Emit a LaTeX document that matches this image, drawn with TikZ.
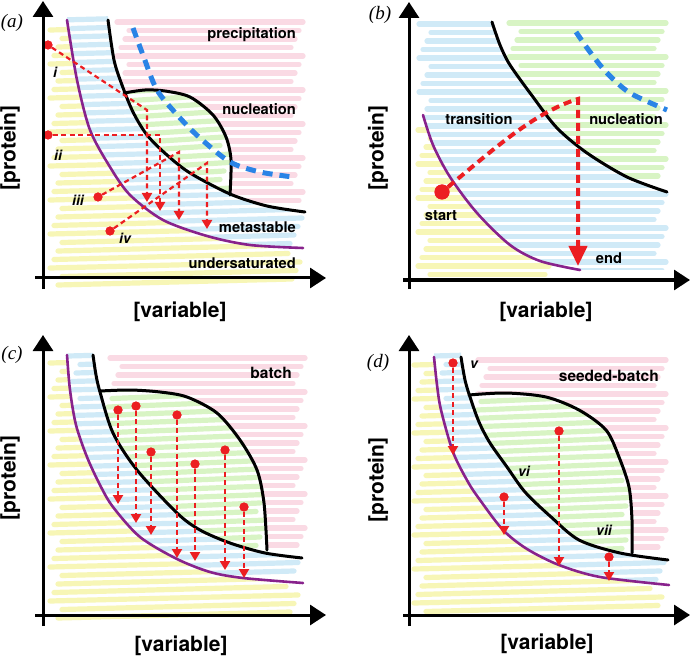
\documentclass[tikz,border=0pt]{standalone}
\usepackage{fontspec}
\setsansfont{TeX Gyre Heros}
\newfontfamily\panelfont{Liberation Serif}
\usetikzlibrary{arrows.meta}
\definecolor{cpink}{RGB}{250,218,228}
\definecolor{cblue}{RGB}{208,234,247}
\definecolor{cyel}{RGB}{247,246,182}
\definecolor{cgreen}{RGB}{216,244,196}
\definecolor{cred}{RGB}{236,30,34}
\definecolor{cpur}{RGB}{136,34,140}
\definecolor{cdash}{RGB}{42,132,230}
% curves
\def\purA{plot[smooth] coordinates {(67,20) (77,80) (90,130) (110,167) (130,195) (163,220) (207,236) (250,245) (303,248)}}
\def\blkA{plot[smooth] coordinates {(108,20) (114,60) (122,85) (133,112) (147,135) (167,155) (190,173) (230,194) (267,206) (305,212)}}
\def\lensA{plot[smooth] coordinates {(124,93) (145,90) (165,91) (190,97) (213,115) (226,137) (231,160) (230,195)}}
\def\dashA{plot[smooth] coordinates {(133,28) (143,55) (157,90) (180,118) (200,138) (230,162) (260,172) (293,177)}}
\def\purB{plot[smooth] coordinates {(423,115) (433,145) (450,177) (477,213) (510,245) (540,261) (580,270)}}
\def\blkB{plot[smooth] coordinates {(492,22) (500,45) (510,65) (533,97) (557,128) (587,153) (627,177) (667,192)}}
\def\dashB{plot[smooth] coordinates {(576,32) (590,52) (607,73) (630,93) (667,110)}}
\def\purC{plot[smooth] coordinates {(67,355) (70,390) (76,425) (87,457) (100,485) (113,507) (140,537) (177,559) (210,572) (243,578) (303,583)}}
\def\blkC{plot[smooth] coordinates {(93,355) (96,375) (100,392) (113,433) (137,470) (177,513) (200,530) (230,543) (265,553) (302,558)}}
\def\lensC{plot[smooth] coordinates {(100,391) (130,390) (160,392) (187,397) (217,413) (240,440) (257,470) (264,503) (267,550)}}
\def\purD{plot[smooth] coordinates {(434,357) (437,385) (441,410) (453,452) (468,482) (480,500) (503,530) (527,549) (559,565) (600,577) (669,585)}}
\def\blkD{plot[smooth] coordinates {(461,357) (465,380) (470,397) (479,422) (490,443) (507,467) (525,492) (550,516) (579,540) (620,553) (668,560)}}
\def\lensD{plot[smooth] coordinates {(469,395) (506,393) (546,397) (579,410) (606,430) (619,457) (629,487) (632,520) (632,553)}}
% crayon bands: colour, x1, x2, y1, y2, slant
\newcommand\bands[6]{%
  \pgfmathtruncatemacro\nb{(#5-#4)/8.5}%
  \foreach \k in {0,...,\nb}{%
    \pgfmathsetmacro\yy{#4+8.5*\k}%
    \pgfmathsetmacro\xa{#2+4*mod(\k*7,4)}%
    \pgfmathsetmacro\xb{#3-4*mod(\k*5,4)}%
    \pgfmathsetmacro\ww{5.2+0.5*mod(\k*3,3)}%
    \draw[#1,line width=\ww pt,line cap=round] (\xa,\yy) -- (\xb,\yy-#6);%
  }}
\begin{document}
\begin{tikzpicture}[x=1pt,y=-1pt,
  reg/.style={font=\sffamily\bfseries\fontsize{14.7}{16}\selectfont, inner sep=0pt},
  axl/.style={font=\sffamily\bfseries\fontsize{21}{24}\selectfont, inner sep=0pt},
  rom/.style={font=\sffamily\bfseries\itshape\fontsize{14}{16}\selectfont, inner sep=0pt},
  pan/.style={font=\panelfont\itshape\fontsize{19}{22}\selectfont, inner sep=0pt},
  axis/.style={line width=3pt, -{Triangle[width=20pt,length=16pt]}},
  pcurve/.style={cpur, line width=2.6pt, line cap=round},
  bcurve/.style={black, line width=3pt, line cap=round},
  dcurve/.style={cdash, line width=5pt, dash pattern=on 10pt off 7pt},
  redarrow/.style={cred, line width=2.2pt, dash pattern=on 5pt off 3.5pt, -{Triangle[width=10pt,length=9pt]}},
  bigarrow/.style={cred, line width=4pt, dash pattern=on 8pt off 5pt, -{Triangle[width=18pt,length=20pt]}},
  rdot/.style={circle, fill=cred, inner sep=0pt, minimum size=9pt},
  bigdot/.style={circle, fill=cred, inner sep=0pt, minimum size=15pt}]
\useasboundingbox (0,0) rectangle (693,660);
\fill[white] (0,0) rectangle (693,660);

%================ panel (a) ================
\begin{scope}\clip \purA -- (330,248) -- (330,300) -- (30,300) -- (30,0) -- (67,0) -- cycle;
  \bands{cyel}{50}{300}{30}{285}{6}\end{scope}
\begin{scope}\clip \blkA -- (330,212) -- (330,300) -- (30,300) -- (30,0) -- (108,0) -- cycle;
  \clip \purA -- (330,248) -- (330,0) -- (67,0) -- cycle;
  \bands{cblue}{60}{302}{20}{255}{6}\end{scope}
\begin{scope}\clip \blkA -- (330,212) -- (330,0) -- (108,0) -- cycle;
  \bands{cpink}{117}{303}{22}{202}{0}\end{scope}
\begin{scope}\clip \blkA -- (330,212) -- (330,0) -- (108,0) -- cycle;
  \clip \lensA -- (230,300) -- (30,300) -- (30,93) -- cycle;
  \fill[white] (0,0) rectangle (346,330);
  \bands{cgreen}{120}{232}{92}{205}{6}\end{scope}
\draw[pcurve] \purA;
\draw[bcurve] \blkA;
\draw[bcurve] \lensA;
\draw[dcurve] \dashA;
\node[rdot] (pi) at (48,45) {};
\coordinate (pi1) at (147,110); \coordinate (pi2) at (147,202);
\node[rdot] (pii) at (48,135) {};
\coordinate (pii1) at (160,135); \coordinate (pii2) at (160,211);
\node[rdot] (piii) at (98,197) {};
\coordinate (piii1) at (179,152); \coordinate (piii2) at (179,220);
\node[rdot] (piv) at (110,231) {};
\coordinate (piv1) at (207,163); \coordinate (piv2) at (207,229);
\draw[redarrow] (pi) -- (pi1) -- (pi2);
\draw[redarrow] (pii) -- (pii1) -- (pii2);
\draw[redarrow] (piii) -- (piii1) -- (piii2);
\draw[redarrow] (piv) -- (piv1) -- (piv2);
\node[rdot] at (pi) {}; \node[rdot] at (pii) {}; \node[rdot] at (piii) {}; \node[rdot] at (piv) {};
\node[rom] (li) at (55,72) {i};
\node[rom] (lii) at (58,155) {ii};
\node[rom] (liii) at (78,200) {iii};
\node[rom] (liv) at (125,238) {iv};
\node[reg, anchor=east] (lprec) at (296,35) {precipitation};
\node[reg, anchor=east] (lnucA) at (296,109) {nucleation};
\node[reg, anchor=east] (lmeta) at (296,227) {metastable};
\node[reg, anchor=east] (lunder) at (296,263) {undersaturated};
\coordinate (ayA0) at (43,289); \coordinate (ayA1) at (43,1);
\coordinate (axA0) at (35,278); \coordinate (axA1) at (326,278);
\draw[axis] (ayA0) -- (ayA1);
\draw[axis] (axA0) -- (axA1);
\node[pan] (pa) at (12,23) {(a)};
\node[axl, rotate=90] (protA) at (10,148) {[protein]};
\node[axl] (varA) at (180,312) {[variable]};

%================ panel (b) ================
\begin{scope}\clip \purB -- (580,300) -- (400,300) -- (400,115) -- cycle;
  \bands{cyel}{418}{549}{130}{275}{0}\end{scope}
\begin{scope}\clip \blkB -- (690,192) -- (690,300) -- (400,300) -- (400,0) -- (492,0) -- cycle;
  \clip \purB -- (690,270) -- (690,0) -- (400,0) -- (400,115) -- cycle;
  \bands{cblue}{419}{666}{24}{272}{0}\end{scope}
\begin{scope}\clip \blkB -- (690,192) -- (690,0) -- (492,0) -- cycle;
  \bands{cgreen}{509}{666}{23}{182}{0}\end{scope}
\draw[pcurve] \purB;
\draw[bcurve] \blkB;
\draw[dcurve] \dashB;
\node[bigdot] (ps) at (442,192) {};
\coordinate (ps1) at (578,99); \coordinate (ps2) at (578,266);
\draw[bigarrow] (ps) .. controls (495,148) and (535,112) .. (ps1) -- (ps2);
\node[bigdot] at (ps) {};
\node[reg] (ltrans) at (479,119) {transition};
\node[reg] (lnucB) at (626,119) {nucleation};
\node[reg] (lstart) at (441,216) {start};
\node[reg] (lend) at (609,258) {end};
\coordinate (ayB0) at (409,289); \coordinate (ayB1) at (409,2);
\coordinate (axB0) at (403,280); \coordinate (axB1) at (690,280);
\draw[axis] (ayB0) -- (ayB1);
\draw[axis] (axB0) -- (axB1);
\node[pan] (pb) at (380,15) {(b)};
\node[axl, rotate=90] (protB) at (378,148) {[protein]};
\node[axl] (varB) at (546,312) {[variable]};

%================ panel (c) ================
\begin{scope}\clip \purC -- (330,583) -- (330,640) -- (30,640) -- (30,330) -- (67,330) -- cycle;
  \bands{cyel}{50}{298}{363}{618}{6}\end{scope}
\begin{scope}\clip \blkC -- (330,558) -- (330,640) -- (30,640) -- (30,330) -- (93,330) -- cycle;
  \clip \purC -- (330,583) -- (330,330) -- (67,330) -- cycle;
  \bands{cblue}{68}{302}{356}{580}{6}\end{scope}
\begin{scope}\clip \blkC -- (330,558) -- (330,330) -- (93,330) -- cycle;
  \bands{cpink}{110}{305}{358}{548}{0}\end{scope}
\begin{scope}\clip \blkC -- (330,558) -- (330,330) -- (93,330) -- cycle;
  \clip \lensC -- (267,640) -- (30,640) -- (30,391) -- cycle;
  \fill[white] (0,330) rectangle (346,660);
  \bands{cgreen}{100}{268}{390}{560}{6}\end{scope}
\draw[pcurve] \purC;
\draw[bcurve] \blkC;
\draw[bcurve] \lensC;
\foreach \n/\xx/\ya/\yb in {1/118/410/504, 2/136/406/523, 3/151/452/535, 4/177/415/558, 5/195/464/561, 6/225/450/570, 7/244/507/578}{
  \node[rdot] (c\n) at (\xx,\ya) {};
  \coordinate (ce\n) at (\xx,\yb);
  \draw[redarrow] (c\n) -- (ce\n);
  \node[rdot] at (c\n) {};
}
\node[reg, anchor=east, font=\sffamily\bfseries\fontsize{15.5}{17}\selectfont] (lbatch) at (292,373) {batch};
\coordinate (ayC0) at (43,626); \coordinate (ayC1) at (43,335);
\coordinate (axC0) at (35,615); \coordinate (axC1) at (326,615);
\draw[axis] (ayC0) -- (ayC1);
\draw[axis] (axC0) -- (axC1);
\node[pan] (pc) at (12,355) {(c)};
\node[axl, rotate=90] (protC) at (10,478) {[protein]};
\node[axl] (varC) at (181,646) {[variable]};

%================ panel (d) ================
\begin{scope}\clip \purD -- (693,585) -- (693,640) -- (400,640) -- (400,330) -- (434,330) -- cycle;
  \bands{cyel}{414}{662}{365}{618}{6}\end{scope}
\begin{scope}\clip \blkD -- (693,560) -- (693,640) -- (400,640) -- (400,330) -- (461,330) -- cycle;
  \clip \purD -- (693,585) -- (693,330) -- (434,330) -- cycle;
  \bands{cblue}{434}{668}{356}{588}{6}\end{scope}
\begin{scope}\clip \blkD -- (693,560) -- (693,330) -- (461,330) -- cycle;
  \bands{cpink}{478}{666}{360}{550}{0}\end{scope}
\begin{scope}\clip \blkD -- (693,560) -- (693,330) -- (461,330) -- cycle;
  \clip \lensD -- (632,640) -- (400,640) -- (400,395) -- cycle;
  \fill[white] (346,330) rectangle (693,660);
  \bands{cgreen}{469}{634}{393}{562}{6}\end{scope}
\draw[pcurve] \purD;
\draw[bcurve] \blkD;
\draw[bcurve] \lensD;
\foreach \n/\xx/\ya/\yb in {1/453/363/455, 2/504/497/535, 3/559/431/566, 4/609/557/581}{
  \node[rdot] (d\n) at (\xx,\ya) {};
  \coordinate (de\n) at (\xx,\yb);
  \draw[redarrow] (d\n) -- (de\n);
  \node[rdot] at (d\n) {};
}
\node[reg, anchor=east, font=\sffamily\bfseries\fontsize{15.5}{17}\selectfont] (lseed) at (659,376) {seeded-batch};
\node[rom] (lv) at (474,365) {v};
\node[rom] (lvi) at (524,471) {vi};
\node[rom] (lvii) at (604,530) {vii};
\coordinate (ayD0) at (409,626); \coordinate (ayD1) at (409,335);
\coordinate (axD0) at (403,615); \coordinate (axD1) at (690,615);
\draw[axis] (ayD0) -- (ayD1);
\draw[axis] (axD0) -- (axD1);
\node[pan] (pd) at (378,363) {(d)};
\node[axl, rotate=90] (protD) at (378,480) {[protein]};
\node[axl] (varD) at (547,644) {[variable]};
\end{tikzpicture}
\end{document}
